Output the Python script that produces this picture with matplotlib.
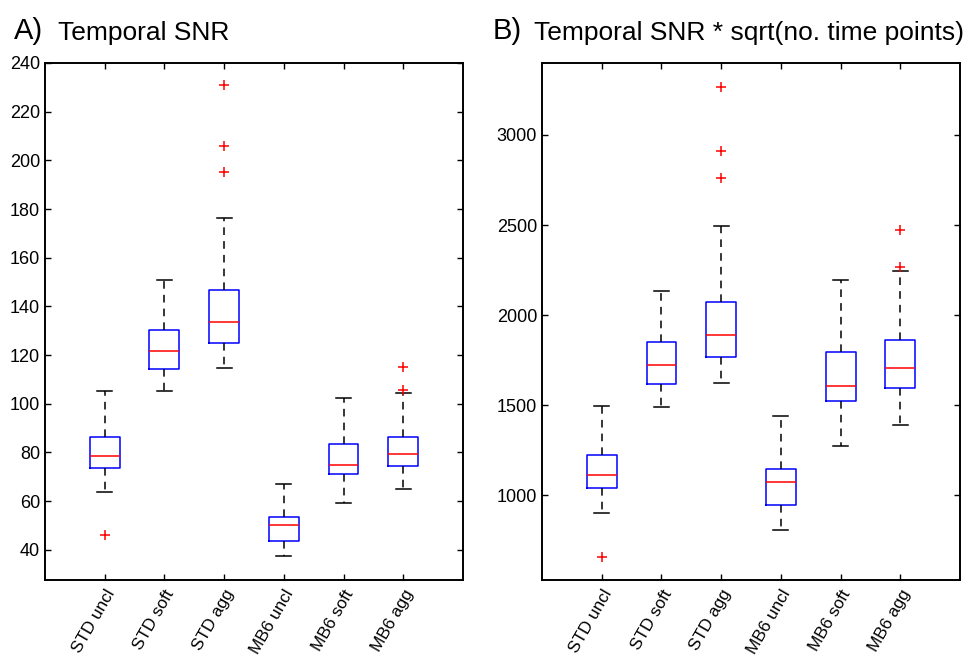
import matplotlib
matplotlib.use("Agg")
import matplotlib.pyplot as plt

plt.rcParams['font.family'] = ['Liberation Sans', 'DejaVu Sans']

labels = ["STD uncl", "STD soft", "STD agg", "MB6 uncl", "MB6 soft", "MB6 agg"]

# panel A: temporal SNR
a_whislo = [63.7, 105.4, 114.5, 37.4, 59.3, 64.8]
a_q1 = [73.6, 114.2, 124.8, 43.8, 71.0, 74.3]
a_med = [78.4, 121.5, 133.6, 50.0, 74.8, 79.4]
a_q3 = [86.5, 130.4, 146.6, 53.3, 83.5, 86.5]
a_whishi = [105.4, 150.7, 176.4, 67.2, 102.3, 104.6]
a_fliers = [[46.2], [], [195.3, 205.8, 230.8], [], [], [105.6, 115.3]]

# panel B: temporal SNR * sqrt(no. time points)
b_whislo = [902, 1489, 1622, 806, 1274, 1391]
b_q1 = [1041, 1617, 1765, 943, 1522, 1594]
b_med = [1109, 1720, 1891, 1074, 1607, 1704]
b_q3 = [1224, 1848, 2074, 1146, 1794, 1859]
b_whishi = [1493, 2132, 2496, 1441, 2196, 2243]
b_fliers = [[654], [], [2761, 2911, 3265], [], [], [2269, 2474]]


def make_stats(whislo, q1, med, q3, whishi, fliers):
    stats = []
    for i in range(len(labels)):
        stats.append({"whislo": whislo[i], "q1": q1[i], "med": med[i],
                      "q3": q3[i], "whishi": whishi[i], "fliers": fliers[i],
                      "label": labels[i]})
    return stats


def draw_panel(ax, stats, ylim, yticks):
    ax.bxp(stats, positions=range(1, 7), widths=0.5, capwidths=0.25,
           boxprops=dict(color="blue", linewidth=1.1),
           medianprops=dict(color="red", linewidth=1.1),
           whiskerprops=dict(color="black", linewidth=1.1, linestyle=(0, (5, 4))),
           capprops=dict(color="black", linewidth=1.1),
           flierprops=dict(marker="+", markeredgecolor="red", markersize=7,
                           markeredgewidth=1.1, linestyle="none"))
    ax.set_xlim(0, 7)
    ax.set_ylim(*ylim)
    ax.set_yticks(yticks)
    ax.set_xticks(range(1, 7))
    ax.set_xticklabels(labels, rotation=60, ha="right", rotation_mode="anchor",
                       fontsize=12.3)
    ax.tick_params(axis="y", labelsize=13)
    ax.tick_params(axis="both", direction="in", top=True, right=True,
                   length=4, width=1.0, colors="black")
    ax.tick_params(axis="x", pad=5)
    for s in ax.spines.values():
        s.set_linewidth(1.4)


fig = plt.figure(figsize=(9.71, 6.58), dpi=100)
ax1 = fig.add_axes([0.0463, 0.1185, 0.4305, 0.7858])
ax2 = fig.add_axes([0.5582, 0.1185, 0.4305, 0.7858])

draw_panel(ax1, make_stats(a_whislo, a_q1, a_med, a_q3, a_whishi, a_fliers),
           (27.6, 240), range(40, 241, 20))
draw_panel(ax2, make_stats(b_whislo, b_q1, b_med, b_q3, b_whishi, b_fliers),
           (528, 3400), [1000, 1500, 2000, 2500, 3000])

fig.text(0.0145, 0.953, "A)", fontsize=21, va="center", ha="left")
fig.text(0.0597, 0.950, "Temporal SNR", fontsize=19, va="center", ha="left")
fig.text(0.5075, 0.953, "B)", fontsize=21, va="center", ha="left")
fig.text(0.5495, 0.950, "Temporal SNR * sqrt(no. time points)", fontsize=19,
         va="center", ha="left")

fig.savefig("out.png", dpi=100)
